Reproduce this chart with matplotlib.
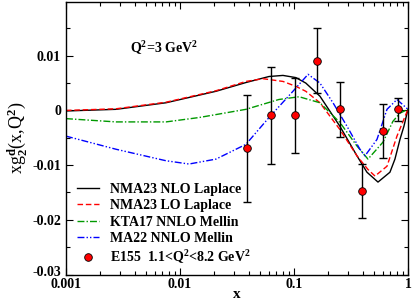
import matplotlib
matplotlib.use('Agg')
import matplotlib.pyplot as plt
from matplotlib.ticker import LogLocator, MultipleLocator, NullFormatter
from matplotlib.transforms import ScaledTranslation

plt.rcParams['font.family'] = ['Liberation Serif', 'DejaVu Serif']
plt.rcParams['font.weight'] = 'bold'
plt.rcParams['mathtext.fontset'] = 'custom'
plt.rcParams['mathtext.rm'] = 'Liberation Serif:bold'
plt.rcParams['mathtext.it'] = 'Liberation Serif:bold'
plt.rcParams['mathtext.bf'] = 'Liberation Serif:bold'
plt.rcParams['axes.unicode_minus'] = False

# NMA23 NLO Laplace
x_nlo = [0.001, 0.00275, 0.00754, 0.0207, 0.0379, 0.0604, 0.0801, 0.104, 0.127, 0.169,
         0.253, 0.357, 0.437, 0.546, 0.695, 0.769, 0.851, 0.922, 1.0]
y_nlo = [-0.0001, 0.0002, 0.0014, 0.0035, 0.0051, 0.0062, 0.0064, 0.0060, 0.0050, 0.0026,
         -0.0029, -0.0083, -0.0113, -0.0131, -0.0113, -0.0089, -0.0053, -0.0029, 0.0002]

# NMA23 LO Laplace
x_lo = [0.001, 0.00275, 0.00754, 0.0207, 0.0379, 0.0535, 0.0801, 0.104, 0.127, 0.169,
        0.253, 0.357, 0.446, 0.514, 0.655, 0.801, 1.0]
y_lo = [0.0, 0.0003, 0.0015, 0.0036, 0.0053, 0.0058, 0.0053, 0.0044, 0.0035, 0.0014,
        -0.0035, -0.0083, -0.0108, -0.0120, -0.0102, -0.0047, 0.0002]

# KTA17 NNLO Mellin
x_kta = [0.001, 0.00275, 0.00754, 0.0147, 0.0379, 0.0738, 0.111, 0.169, 0.253, 0.357,
         0.446, 0.604, 0.738, 0.851, 1.0]
y_kta = [-0.0015, -0.0021, -0.0021, -0.0013, 0.0002, 0.0020, 0.0025, 0.0014, -0.0022, -0.0065,
         -0.0089, -0.0058, -0.0020, -0.0005, 0.0002]

# MA22 NNLO Mellin
x_ma = [0.001, 0.00275, 0.00754, 0.0120, 0.0207, 0.0379, 0.0604, 0.098, 0.133, 0.169,
        0.220, 0.292, 0.379, 0.420, 0.535, 0.655, 0.801, 1.0]
y_ma = [-0.0047, -0.0071, -0.0092, -0.0098, -0.0089, -0.0062, -0.0013, 0.0035, 0.0066, 0.0050,
        0.0014, -0.0029, -0.0071, -0.0083, -0.0053, 0.0002, 0.0020, 0.0002]

# E155 data
x_e155 = [0.0387, 0.0628, 0.102, 0.159, 0.253, 0.394, 0.604, 0.816]
y_e155 = [-0.0069, -0.0009, -0.0009, 0.0091, 0.0002, -0.0147, -0.0038, 0.0002]
err_e155 = [0.0098, 0.0089, 0.0068, 0.0060, 0.0050, 0.0049, 0.0049, 0.0021]

yticks = [-0.03, -0.02, -0.01, 0, 0.01]
ytick_labels = ['-0.03', '-0.02', '-0.01', '0', '0.01']
xticks = [0.001, 0.01, 0.1, 1]
xtick_labels = ['0.001', '0.01', '0.1', '1']

fig = plt.figure(figsize=(4.15, 3.03), dpi=100)
ax = fig.add_axes([0.159, 0.094, 0.824, 0.899])

ax.plot(x_nlo, y_nlo, color='black', lw=1.0, label='NMA23 NLO Laplace')
ax.plot(x_lo, y_lo, color='red', lw=1.0, ls=(0, (4, 2)), label='NMA23 LO Laplace')
ax.plot(x_kta, y_kta, color='#009900', lw=1.0, ls=(0, (5, 1.5, 1, 1.5)), label='KTA17 NNLO Mellin')
ax.plot(x_ma, y_ma, color='blue', lw=1.0, ls=(0, (5, 1.5, 1, 1.5, 1, 1.5)), label='MA22 NNLO Mellin')
ax.errorbar(x_e155, y_e155, yerr=err_e155, fmt='none', ecolor='black',
            elinewidth=1.0, capsize=2.8, capthick=1.0)
ax.plot(x_e155, y_e155, 'o', color='red', mec='black', mew=0.6, ms=5.5,
        label='E155  1.1<Q$^2$<8.2 GeV$^2$')

ax.set_xscale('log')
ax.set_xlim(0.001, 1)
ax.set_ylim(-0.03, 0.0198)
ax.set_xticks(xticks)
ax.set_xticklabels(xtick_labels)
ax.xaxis.set_minor_locator(LogLocator(base=10, subs=range(2, 10)))
ax.xaxis.set_minor_formatter(NullFormatter())
ax.set_yticks(yticks)
ax.set_yticklabels(ytick_labels)
ax.yaxis.set_minor_locator(MultipleLocator(0.005))
ax.tick_params(which='both', direction='in', top=True, right=True, labelsize=10, width=0.8)
ax.tick_params(which='major', length=5)
ax.tick_params(which='minor', length=3)
ax.tick_params(axis='x', pad=2.5)
for s in ax.spines.values():
    s.set_linewidth(1.0)

# lift the lowest y label a little so it clears the first x label
low = ax.get_yticklabels()[0]
low.set_transform(low.get_transform() + ScaledTranslation(0, 2.5 / 72, fig.dpi_scale_trans))

ax.set_xlabel('x', fontsize=11, fontweight='bold', labelpad=-2)
ax.set_ylabel('xg$_2^d$(x,Q$^2$)', fontsize=13, labelpad=2)

ax.text(0.00364, 0.0113, 'Q$^2$=3 GeV$^2$', fontsize=10, ha='left', va='center')

leg = ax.legend(loc='lower left', bbox_to_anchor=(0.0, -0.01), frameon=False, fontsize=10,
                handlelength=1.6, handletextpad=0.8, labelspacing=0.25, borderaxespad=0.4)

fig.savefig('out.png', dpi=100)
